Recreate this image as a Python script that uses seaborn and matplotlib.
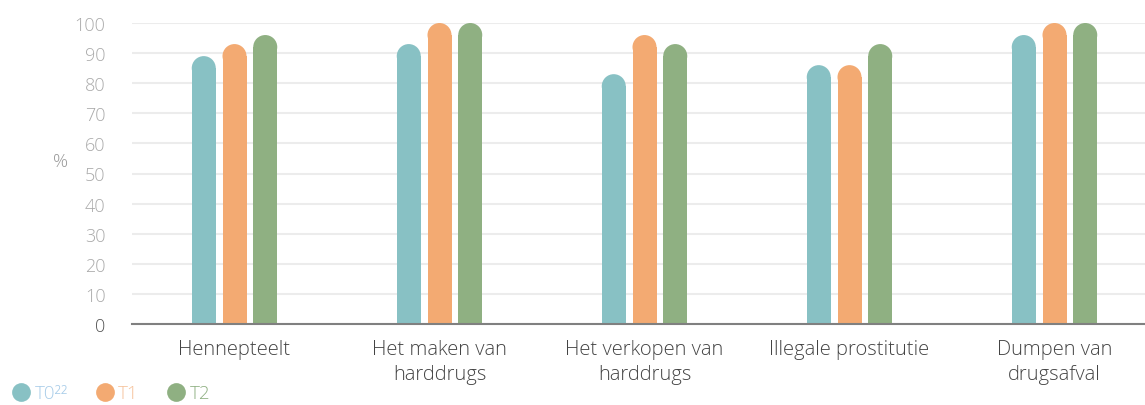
import matplotlib
matplotlib.use("Agg")
import matplotlib.pyplot as plt
from matplotlib.patches import Ellipse
from matplotlib.lines import Line2D
import seaborn as sns
import pandas as pd

categories = ["Hennepteelt", "Het maken van\nharddrugs", "Het verkopen van\nharddrugs",
              "Illegale prostitutie", "Dumpen van\ndrugsafval"]
series = ["T0", "T1", "T2"]
t0 = [89, 93, 83, 86, 96]
t1 = [93, 100, 96, 86, 100]
t2 = [96, 100, 93, 93, 100]
legend_labels = ["T0\u00b2\u00b2", "T1", "T2"]
yticks = list(range(0, 101, 10))

colors = ["#88C1C4", "#F3AA72", "#8FB082"]
legend_text_colors = ["#A9CDE9", "#F6C39C", "#8FB082"]

sns.set_theme(style="white")
plt.rcParams['font.family'] = ['Open Sans', 'DejaVu Sans']

rows = []
for s, vals in zip(series, [t0, t1, t2]):
    for c, v in zip(categories, vals):
        rows.append({"cat": c, "serie": s, "val": v})
df = pd.DataFrame(rows)

fig = plt.figure(figsize=(11.45, 4.06), dpi=100)
ax = fig.add_axes([132/1145, 81/406, 1025/1145, 301/406])

sns.barplot(data=df, x="cat", y="val", hue="serie", palette=colors,
            order=categories, hue_order=series, width=0.45, gap=0.0,
            legend=False, ax=ax, saturation=1)

ax.set_xlim(-0.5, 4.5)
ax.set_ylim(0, 100)

px_x = 1025 / 5.0
px_y = 301 / 100.0
bar_px = 24
for p in list(ax.patches):
    cx = p.get_x() + p.get_width() / 2
    h = p.get_height()
    w = bar_px / px_x
    r_y = (bar_px / 2) / px_y
    p.set_x(cx - w / 2)
    p.set_width(w)
    p.set_height(h - r_y)
    p.set_linewidth(0)
    e = Ellipse((cx, h - r_y), w, 2 * r_y, facecolor=p.get_facecolor(),
                edgecolor='none', clip_on=False, zorder=p.get_zorder())
    ax.add_patch(e)

ax.set_yticks(yticks)
ax.set_yticklabels([str(v) for v in yticks])
ax.yaxis.grid(True, color="#ECECEC", linewidth=1.5)
ax.set_axisbelow(True)
for s in ["top", "right", "left"]:
    ax.spines[s].set_visible(False)
ax.spines["bottom"].set_color("#808080")
ax.spines["bottom"].set_linewidth(1.5)
ax.tick_params(axis='both', length=0)
ax.tick_params(axis='y', pad=19, labelsize=13, labelcolor="#AAAAAA")
ax.tick_params(axis='x', pad=11, labelsize=14.5, labelcolor="#444444")
for lab in ax.get_yticklabels():
    lab.set_fontweight('light')
    if lab.get_text() == "0":
        lab.set_color("#555555")
for lab in ax.get_xticklabels():
    lab.set_fontweight('light')
    lab.set_linespacing(1.3)
ax.set_xlabel("")
ax.set_ylabel("%", rotation=0, fontsize=13.5, color="#999999", fontweight='light',
              va='center')
ax.yaxis.set_label_coords(-0.07, 0.54)

handles = [Line2D([0], [0], marker='o', linestyle='none', markersize=13.5,
                  markerfacecolor=c, markeredgecolor='none') for c in colors]
leg = fig.legend(handles, legend_labels, loc='lower left', bbox_to_anchor=(-0.006, -0.035),
                 ncol=3, frameon=False, fontsize=13.5, handletextpad=0.1,
                 columnspacing=1.4, handlelength=1.2)
for t, c in zip(leg.get_texts(), legend_text_colors):
    t.set_color(c)
    t.set_fontweight('light')

fig.savefig("out.png", dpi=100)
